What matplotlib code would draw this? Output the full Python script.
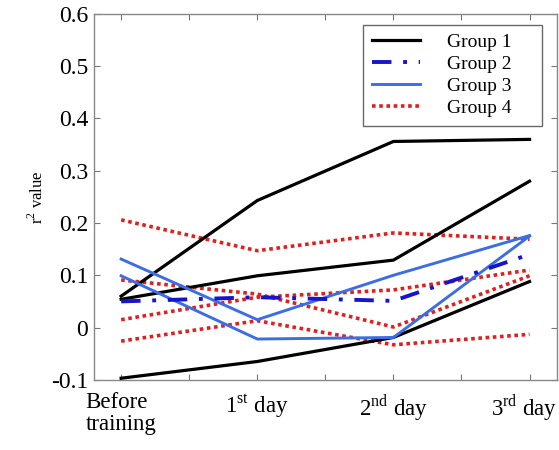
import numpy as np
import matplotlib
matplotlib.use("Agg")
import matplotlib.pyplot as plt
from matplotlib.transforms import ScaledTranslation

plt.rcParams['font.family'] = 'Liberation Serif'
plt.rcParams['mathtext.fontset'] = 'custom'
plt.rcParams['mathtext.rm'] = 'Liberation Serif'

# sessions
days = [0, 1, 2, 3]
day_labels = ['Before\ntraining', '1$^{\\rm st}$ day', '2$^{\\rm nd}$ day', '3$^{\\rm rd}$ day']

# r^2 values per subject, grouped
group1 = [
    [0.060, 0.243, 0.356, 0.360],
    [0.054, 0.099, 0.129, 0.280],
    [-0.097, -0.065, -0.019, 0.088],
]
group2 = [
    [0.050, 0.058, 0.051, 0.140],
]
group3 = [
    [0.131, 0.015, 0.100, 0.176],
    [0.099, -0.022, -0.019, 0.175],
]
group4 = [
    [0.206, 0.147, 0.181, 0.169],
    [0.091, 0.064, 0.001, 0.099],
    [0.015, 0.058, 0.072, 0.110],
    [-0.026, 0.013, -0.033, -0.013],
]

fig = plt.figure(figsize=(5.59, 4.5), dpi=100)
ax = fig.add_axes([0.168, 0.156, 0.828, 0.813])

# draw red first so the others sit on top
for i, v in enumerate(group4):
    ax.plot(days, v, color='#e21f1f', lw=2.6, ls=(0, (1, 1)),
            label='Group 4' if i == 0 else None, zorder=2)
for i, v in enumerate(group1):
    ax.plot(days, v, color='black', lw=2.3,
            label='Group 1' if i == 0 else None, zorder=3)
for i, v in enumerate(group3):
    ax.plot(days, v, color='#3b6ee6', lw=2.1,
            label='Group 3' if i == 0 else None, zorder=3)
for i, v in enumerate(group2):
    ax.plot(days, v, color='#1515cc', lw=2.8, ls=(0, (5, 3, 1, 3)),
            label='Group 2' if i == 0 else None, zorder=4)

ax.set_xlim(-0.2, 3.2)
ax.set_ylim(-0.1, 0.6)
ax.set_xticks(days)
ax.set_xticks([0.5, 1.5, 2.5], minor=True)
ax.set_xticklabels(day_labels, fontsize=16.5, linespacing=1.05)
ax.set_yticks(np.arange(-0.1, 0.61, 0.1))
ax.set_yticklabels(['-0.1', '0', '0.1', '0.2', '0.3', '0.4', '0.5', '0.6'], fontsize=17)
ax.tick_params(axis='both', which='both', direction='in', top=True, right=True,
               length=4, width=0.8, color='#777777')
ax.tick_params(axis='x', which='major', pad=9)
ax.tick_params(axis='y', pad=4)
for lab in ax.get_xticklabels():
    lab.set_multialignment('left')
# last label sits right at the figure edge, nudge it in a little
last = ax.get_xticklabels()[-1]
last.set_transform(last.get_transform() + ScaledTranslation(-5 / 100, 0, fig.dpi_scale_trans))
for s in ax.spines.values():
    s.set_color('#888888')
    s.set_linewidth(1.0)

ax.set_ylabel('r$^{2}$ value', fontsize=12, labelpad=3)

handles, labels = ax.get_legend_handles_labels()
order = [labels.index(n) for n in ['Group 1', 'Group 2', 'Group 3', 'Group 4']]
leg = ax.legend([handles[i] for i in order], [labels[i] for i in order],
                loc='upper left', bbox_to_anchor=(0.581, 0.0, 0.387, 0.97),
                mode='expand', fontsize=14,
                frameon=True, fancybox=False, edgecolor='#444444',
                handlelength=2.5, handletextpad=1.4, borderpad=0.45,
                labelspacing=0.22, borderaxespad=0)
leg.get_frame().set_linewidth(1.0)

fig.savefig('out.png', dpi=100)
